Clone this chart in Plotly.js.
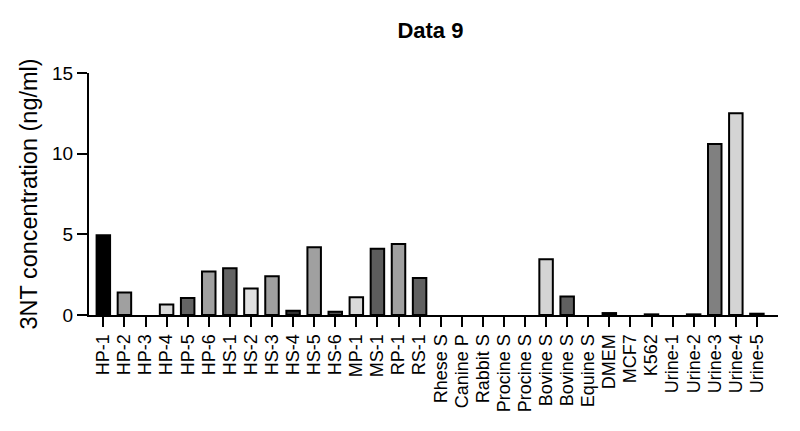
<!DOCTYPE html>
<html>
<head>
<meta charset="utf-8">
<script src="https://cdn.plot.ly/plotly-3.0.1.min.js"></script>
<style>
  html, body { margin: 0; padding: 0; background: #fff; }
  #chart { width: 800px; height: 431px; }
</style>
</head>
<body>
<div id="chart"></div>
<script>
// Data 9 - 3NT concentration per sample
var samples = [
  "HP-1", "HP-2", "HP-3", "HP-4", "HP-5", "HP-6",
  "HS-1", "HS-2", "HS-3", "HS-4", "HS-5", "HS-6",
  "MP-1", "MS-1", "RP-1", "RS-1",
  "Rhese S", "Canine P", "Rabbit S", "Procine S", "Procine S",
  "Bovine S", "Bovine S", "Equine S",
  "DMEM", "MCF7", "K562",
  "Urine-1", "Urine-2", "Urine-3", "Urine-4", "Urine-5"
];
var conc = [
  4.95, 1.4, 0, 0.65, 1.05, 2.7,
  2.9, 1.65, 2.4, 0.27, 4.2, 0.2,
  1.1, 4.1, 4.4, 2.3,
  0, 0, 0, 0, 0,
  3.45, 1.15, 0,
  0.12, 0, 0.04,
  0, 0.04, 10.6, 12.5, 0.08
];
var yTicks = [0, 5, 10, 15];

// grey fill per bar (style only)
var barColors = [
  "#000000", "#a0a0a0", "#d9d9d9", "#d9d9d9", "#646464", "#a0a0a0",
  "#646464", "#e0e0e0", "#a0a0a0", "#333333", "#a0a0a0", "#555555",
  "#d9d9d9", "#5c5c5c", "#a0a0a0", "#606060",
  "#a0a0a0", "#a0a0a0", "#a0a0a0", "#a0a0a0", "#a0a0a0",
  "#d4d4d4", "#606060", "#a0a0a0",
  "#444444", "#a0a0a0", "#444444",
  "#a0a0a0", "#444444", "#808080", "#d4d4d4", "#444444"
];

// numeric positions so repeated names stay separate bars
var pos = samples.map(function (s, i) { return i; });
// empty bars get no outline (only the axis shows there)
var outline = conc.map(function (v) { return v > 0 ? 2 : 0; });

var data = [{
  type: "bar",
  x: pos,
  y: conc,
  width: 0.64,
  marker: {
    color: barColors,
    line: { color: "#000000", width: outline }
  },
  hoverinfo: "y"
}];

var font = "Arial, 'Liberation Sans', sans-serif";

var layout = {
  width: 800, height: 431,
  margin: { t: 73, r: 22, l: 89, b: 116 },
  paper_bgcolor: "#ffffff",
  plot_bgcolor: "#ffffff",
  showlegend: false,
  font: { family: font, color: "#000000" },
  title: {
    text: "<b>Data 9</b>",
    font: { family: font, size: 22, color: "#000000" },
    x: 0.538, xanchor: "center",
    y: 0.93, yanchor: "middle"
  },
  xaxis: {
    range: [-0.68, 32.0],
    tickmode: "array",
    tickvals: pos,
    ticktext: samples,
    tickangle: -90,
    tickfont: { family: font, size: 18, color: "#000000" },
    ticks: "outside",
    ticklen: 10,
    tickwidth: 2,
    tickcolor: "#000000",
    showline: true,
    linecolor: "#000000",
    linewidth: 2,
    showgrid: false,
    zeroline: false,
    automargin: false
  },
  yaxis: {
    range: [0, 15],
    tickmode: "array",
    tickvals: yTicks,
    ticktext: yTicks.map(String),
    tickfont: { family: font, size: 19, color: "#000000" },
    ticks: "outside",
    ticklen: 10,
    tickwidth: 2,
    tickcolor: "#000000",
    showline: true,
    linecolor: "#000000",
    linewidth: 2,
    showgrid: false,
    zeroline: false,
    automargin: false,
    title: {
      text: "3NT concentration (ng/ml)",
      font: { family: font, size: 23.5, color: "#000000" },
      standoff: 8
    }
  },
  bargap: 0.36
};

Plotly.newPlot("chart", data, layout, { displayModeBar: false, staticPlot: true });
</script>
</body>
</html>
